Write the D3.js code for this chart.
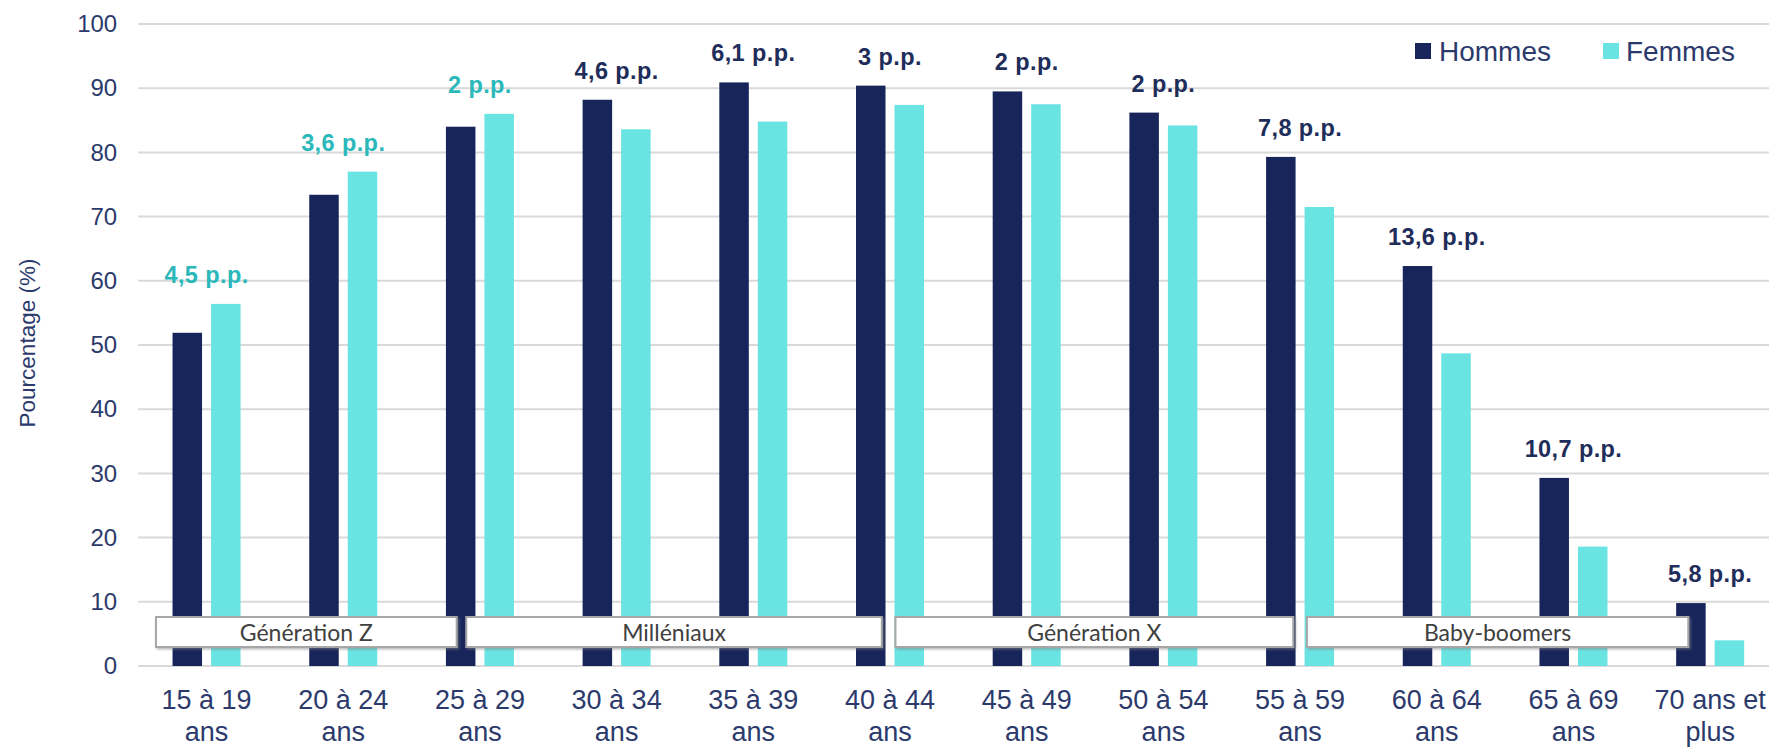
<!DOCTYPE html>
<html lang="fr">
<head>
<meta charset="utf-8">
<script src="https://cdn.jsdelivr.net/npm/d3@7"></script>
<style>
  html, body { margin: 0; padding: 0; background: #ffffff; }
  svg { display: block; }
</style>
</head>
<body>
<svg id="chart" width="1769" height="748"></svg>
<script>
// Taux d'activité par groupe d'âge et par sexe (%)
const categories = [
  ["15 à 19", "ans"], ["20 à 24", "ans"], ["25 à 29", "ans"], ["30 à 34", "ans"],
  ["35 à 39", "ans"], ["40 à 44", "ans"], ["45 à 49", "ans"], ["50 à 54", "ans"],
  ["55 à 59", "ans"], ["60 à 64", "ans"], ["65 à 69", "ans"], ["70 ans et", "plus"]
];
const series = ["Hommes", "Femmes"];
const hommes = [51.9, 73.4, 84.0, 88.2, 90.9, 90.4, 89.5, 86.2, 79.3, 62.3, 29.3, 9.8];
const femmes = [56.4, 77.0, 86.0, 83.6, 84.8, 87.4, 87.5, 84.2, 71.5, 48.7, 18.6, 4.0];
const yTicks = [0, 10, 20, 30, 40, 50, 60, 70, 80, 90, 100];
const generations = ["Génération Z", "Milléniaux", "Génération X", "Baby-boomers"];

// Horizontal extent of each generation banner, in category steps from the left edge
const generationSpans = [[0.13, 2.33], [2.40, 5.44], [5.54, 8.45], [8.55, 11.34]];

const W = 1769, H = 748;
const plot = { left: 138.2, right: 1778.5, top: 24, bottom: 666 };

const colors = { Hommes: "#17255b", Femmes: "#6ae3e3" };
const axisText = "#2b3a6b";
const gapColors = { femmesPlus: "#2bb8ba", hommesPlus: "#1f2d5a" };

const svg = d3.select("#chart");
svg.append("rect").attr("width", W).attr("height", H).attr("fill", "#ffffff");

const defs = svg.append("defs");
const shadow = defs.append("filter").attr("id", "boxShadow")
  .attr("x", "-5%").attr("y", "-30%").attr("width", "110%").attr("height", "160%");
shadow.append("feDropShadow").attr("dx", 1.5).attr("dy", 1.5)
  .attr("stdDeviation", 0.8).attr("flood-color", "#7f7f7f").attr("flood-opacity", 0.55);

const keys = categories.map(c => c.join(" "));
const x = d3.scaleBand().domain(keys).range([plot.left, plot.right]).paddingInner(0).paddingOuter(0);
const step = x.step();
const x1 = d3.scaleBand().domain(series)
  .range([step / 2 - 34, step / 2 + 34]).paddingInner(0.234).paddingOuter(0);
const y = d3.scaleLinear().domain([0, 100]).range([plot.bottom, plot.top]);

// Gridlines
svg.append("g").selectAll("line").data(yTicks).join("line")
  .attr("x1", plot.left).attr("x2", W)
  .attr("y1", d => y(d)).attr("y2", d => y(d))
  .attr("stroke", "#d9d9d9").attr("stroke-width", 2);

// Y axis labels
const yAxis = svg.append("g")
  .attr("transform", `translate(${plot.left - 21},0)`)
  .call(d3.axisLeft(y).tickValues(yTicks).tickSize(0).tickPadding(0));
yAxis.select(".domain").remove();
yAxis.selectAll("text")
  .attr("fill", axisText)
  .attr("font-family", "'Liberation Sans', Arial, sans-serif")
  .attr("font-size", 24);

// Y axis title
svg.append("text")
  .attr("transform", `translate(27,343) rotate(-90)`)
  .attr("text-anchor", "middle")
  .attr("dominant-baseline", "central")
  .attr("fill", axisText)
  .attr("font-family", "'Liberation Sans', Arial, sans-serif")
  .attr("font-size", 22.5)
  .text("Pourcentage (%)");

// Bars
const rows = keys.map((k, i) => ({ key: k, Hommes: hommes[i], Femmes: femmes[i] }));
const groups = svg.append("g").selectAll("g").data(rows).join("g")
  .attr("transform", d => `translate(${x(d.key)},0)`);
groups.selectAll("rect").data(d => series.map(s => ({ s, v: d[s] }))).join("rect")
  .attr("x", d => x1(d.s))
  .attr("width", x1.bandwidth())
  .attr("y", d => y(d.v))
  .attr("height", d => y(0) - y(d.v))
  .attr("fill", d => colors[d.s]);

// Gap labels (difference between men and women, in percentage points)
const fmt = v => {
  const r = Math.round(v * 10) / 10;
  return (Number.isInteger(r) ? String(r) : r.toFixed(1).replace(".", ",")) + " p.p.";
};
svg.append("g").selectAll("text").data(rows).join("text")
  .attr("x", d => x(d.key) + step / 2)
  .attr("y", d => y(Math.max(d.Hommes, d.Femmes)) - 21)
  .attr("text-anchor", "middle")
  .attr("fill", d => d.Femmes > d.Hommes ? gapColors.femmesPlus : gapColors.hommesPlus)
  .attr("font-family", "'Liberation Sans', Arial, sans-serif")
  .attr("font-weight", "bold")
  .attr("font-size", 23.5)
  .attr("letter-spacing", 0.4)
  .text(d => fmt(Math.abs(d.Hommes - d.Femmes)));

// Generation banners
const gen = svg.append("g").selectAll("g").data(generations).join("g");
gen.append("rect")
  .attr("x", (d, i) => plot.left + generationSpans[i][0] * step)
  .attr("width", (d, i) => (generationSpans[i][1] - generationSpans[i][0]) * step)
  .attr("y", plot.bottom - 49)
  .attr("height", 30)
  .attr("fill", "#ffffff")
  .attr("stroke", "#a6a6a6")
  .attr("stroke-width", 2)
  .attr("filter", "url(#boxShadow)");
gen.append("text")
  .attr("x", (d, i) => plot.left + (generationSpans[i][0] + generationSpans[i][1]) / 2 * step)
  .attr("y", plot.bottom - 34)
  .attr("text-anchor", "middle")
  .attr("dominant-baseline", "central")
  .attr("fill", "#404040")
  .attr("font-family", "Lato, 'Open Sans', sans-serif")
  .attr("font-size", 23)
  .text(d => d);

// Category labels (two lines)
const xl = svg.append("g").selectAll("text").data(categories).join("text")
  .attr("text-anchor", "middle")
  .attr("fill", axisText)
  .attr("font-family", "'Liberation Sans', Arial, sans-serif")
  .attr("font-size", 27);
xl.append("tspan")
  .attr("x", (d, i) => x(keys[i]) + step / 2).attr("y", 709)
  .text(d => d[0]);
xl.append("tspan")
  .attr("x", (d, i) => x(keys[i]) + step / 2).attr("y", 741)
  .text(d => d[1]);

// Legend
const legendPos = [{ sq: 1415, tx: 1439 }, { sq: 1603, tx: 1626 }];
const lg = svg.append("g").selectAll("g").data(series).join("g");
lg.append("rect")
  .attr("x", (d, i) => legendPos[i].sq).attr("y", 43)
  .attr("width", 16).attr("height", 16)
  .attr("fill", d => colors[d]);
lg.append("text")
  .attr("x", (d, i) => legendPos[i].tx).attr("y", 61)
  .attr("fill", axisText)
  .attr("font-family", "'Liberation Sans', Arial, sans-serif")
  .attr("font-size", 28)
  .text(d => d);
</script>
</body>
</html>
